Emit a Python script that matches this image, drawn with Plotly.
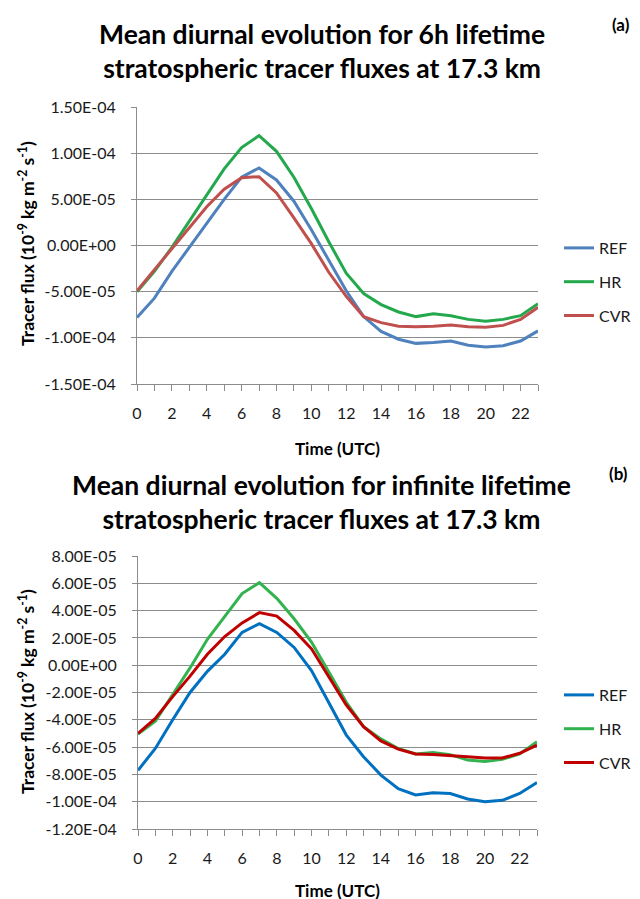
import plotly.graph_objects as go

hours = list(range(24))

# Panel (a): 6h lifetime
ref_a = [-7.8e-5, -5.7e-5, -2.8e-5, -0.2e-5, 2.3e-5, 5.0e-5, 7.4e-5, 8.4e-5, 7.1e-5, 4.8e-5,
         1.7e-5, -1.6e-5, -4.9e-5, -7.7e-5, -9.3e-5, -1.015e-4, -1.06e-4, -1.05e-4, -1.035e-4,
         -1.08e-4, -1.10e-4, -1.085e-4, -1.035e-4, -9.25e-5]
hr_a = [-5.0e-5, -2.8e-5, -0.2e-5, 2.6e-5, 5.4e-5, 8.3e-5, 1.06e-4, 1.19e-4, 1.02e-4, 7.4e-5,
        4.0e-5, 0.4e-5, -3.0e-5, -5.2e-5, -6.4e-5, -7.2e-5, -7.7e-5, -7.4e-5, -7.6e-5,
        -8.0e-5, -8.2e-5, -8.0e-5, -7.6e-5, -6.3e-5]
cvr_a = [-4.9e-5, -2.6e-5, -0.3e-5, 2.0e-5, 4.2e-5, 6.1e-5, 7.35e-5, 7.45e-5, 5.7e-5, 3.0e-5,
         0.2e-5, -2.9e-5, -5.5e-5, -7.7e-5, -8.35e-5, -8.75e-5, -8.8e-5, -8.75e-5, -8.6e-5,
         -8.8e-5, -8.85e-5, -8.65e-5, -8.0e-5, -6.7e-5]

# Panel (b): infinite lifetime
ref_b = [-7.7e-5, -6.1e-5, -4.0e-5, -2.0e-5, -0.45e-5, 0.8e-5, 2.4e-5, 3.05e-5, 2.4e-5, 1.3e-5,
         -0.4e-5, -2.7e-5, -5.1e-5, -6.7e-5, -8.05e-5, -9.05e-5, -9.5e-5, -9.35e-5, -9.4e-5,
         -9.8e-5, -1.0e-4, -9.9e-5, -9.4e-5, -8.6e-5]
hr_b = [-5.05e-5, -4.1e-5, -2.15e-5, -0.2e-5, 1.9e-5, 3.6e-5, 5.25e-5, 6.05e-5, 4.9e-5, 3.4e-5,
        1.7e-5, -0.5e-5, -2.7e-5, -4.5e-5, -5.4e-5, -6.1e-5, -6.5e-5, -6.4e-5, -6.55e-5,
        -6.95e-5, -7.05e-5, -6.9e-5, -6.5e-5, -5.6e-5]
cvr_b = [-5.0e-5, -3.9e-5, -2.3e-5, -0.8e-5, 0.8e-5, 2.1e-5, 3.1e-5, 3.85e-5, 3.6e-5, 2.55e-5,
         1.2e-5, -0.9e-5, -2.9e-5, -4.5e-5, -5.55e-5, -6.15e-5, -6.5e-5, -6.55e-5, -6.6e-5,
         -6.7e-5, -6.8e-5, -6.8e-5, -6.45e-5, -5.85e-5]

series_names = ["REF", "HR", "CVR"]
yticks_a = [1.5e-4, 1.0e-4, 5.0e-5, 0.0, -5.0e-5, -1.0e-4, -1.5e-4]
ylabels_a = ["1.50E-04", "1.00E-04", "5.00E-05", "0.00E+00", "-5.00E-05", "-1.00E-04", "-1.50E-04"]
yticks_b = [8e-5, 6e-5, 4e-5, 2e-5, 0.0, -2e-5, -4e-5, -6e-5, -8e-5, -1e-4, -1.2e-4]
ylabels_b = ["8.00E-05", "6.00E-05", "4.00E-05", "2.00E-05", "0.00E+00", "-2.00E-05",
             "-4.00E-05", "-6.00E-05", "-8.00E-05", "-1.00E-04", "-1.20E-04"]
xticks = list(range(0, 23, 2))

title_a = "Mean diurnal evolution for 6h lifetime<br>stratospheric tracer fluxes at 17.3 km"
title_b = "Mean diurnal evolution for infinite lifetime<br>stratospheric tracer fluxes at 17.3 km"
ytitle = "Tracer flux (10<sup>-9</sup> kg m<sup>-2</sup> s<sup>-1</sup>)"

colors_a = ["#4F81BD", "#23A84C", "#C0504D"]
colors_b = ["#0070C0", "#33B34F", "#C00000"]

FONT = "Lato, 'Open Sans', sans-serif"
# The page body has an 8px default margin, so the figure is sized to fit the
# 640x899 window and positions are expressed in window pixels minus that offset.
OFF = 8
W, H = 640 - OFF, 899 - OFF


def px(x):
    return (x - OFF) / W


def py(y):
    return 1 - (y - OFF) / H


fig = go.Figure()
for name, ys, c in zip(series_names, [ref_a, hr_a, cvr_a], colors_a):
    fig.add_trace(go.Scatter(x=hours, y=ys, name=name, mode="lines",
                             line=dict(color=c, width=3), xaxis="x", yaxis="y",
                             legend="legend", legendgroup="a" + name))
for name, ys, c in zip(series_names, [ref_b, hr_b, cvr_b], colors_b):
    fig.add_trace(go.Scatter(x=hours, y=ys, name=name, mode="lines",
                             line=dict(color=c, width=3), xaxis="x2", yaxis="y2",
                             legend="legend2", legendgroup="b" + name))

grid = "#8C8C8C"
tickfont = dict(family=FONT, size=16, color="#1a1a1a")


def xaxis(domain, anchor):
    return dict(domain=domain, anchor=anchor, range=[0, 23], tickvals=xticks,
                ticks="outside", ticklen=6, tickcolor=grid, showgrid=False,
                ticklabelstandoff=9,
                minor=dict(dtick=1, tick0=0, ticks="outside", ticklen=6, tickcolor=grid),
                showline=True, linecolor=grid, linewidth=1, zeroline=False, tickfont=tickfont)


def yaxis(domain, anchor, rng, tv, tt):
    return dict(domain=domain, anchor=anchor, range=rng, tickvals=tv, ticktext=tt,
                ticks="outside", ticklen=5, tickcolor=grid, showgrid=True,
                ticklabelstandoff=12,
                gridcolor=grid, gridwidth=1, showline=True, linecolor=grid, linewidth=1,
                zeroline=False, tickfont=tickfont)


xd_a = [px(137), px(538)]
yd_a = [py(384), py(107)]
xd_b = [px(138), px(537)]
yd_b = [py(829), py(556)]

legend_common = dict(font=dict(family=FONT, size=16, color="#1a1a1a"), tracegroupgap=10,
                     bgcolor="rgba(0,0,0,0)", itemwidth=30, xanchor="left", yanchor="middle")

fig.update_layout(
    width=W, height=H, margin=dict(l=0, r=0, t=0, b=0, autoexpand=False),
    paper_bgcolor="white", plot_bgcolor="white",
    showlegend=True,
    xaxis=xaxis(xd_a, "y"),
    yaxis=yaxis(yd_a, "x", [-1.5e-4, 1.5e-4], yticks_a, ylabels_a),
    xaxis2=xaxis(xd_b, "y2"),
    yaxis2=yaxis(yd_b, "x2", [-1.2e-4, 8e-5], yticks_b, ylabels_b),
    legend=dict(x=px(559), y=py(282), **legend_common),
    legend2=dict(x=px(559), y=py(729), **legend_common),
)


def ann(text, x, y, size, bold=True, angle=0, xanchor="center"):
    fig.add_annotation(text=f"<b>{text}</b>" if bold else text, x=px(x), y=py(y),
                       xref="paper", yref="paper", showarrow=False, textangle=angle,
                       xanchor=xanchor, yanchor="middle",
                       font=dict(family=FONT, size=size, color="black"))


ann(title_a, 322, 51, 26.5)
ann("(a)", 621, 24, 17)
ann(ytitle, 26, 244, 17.5, angle=-90)
ann("Time (UTC)", 337, 448, 17)

ann(title_b, 321, 502, 26.5)
ann("(b)", 618, 474, 17)
ann(ytitle, 26, 692, 17.5, angle=-90)
ann("Time (UTC)", 337, 890, 17)

fig.write_html("out.html")
